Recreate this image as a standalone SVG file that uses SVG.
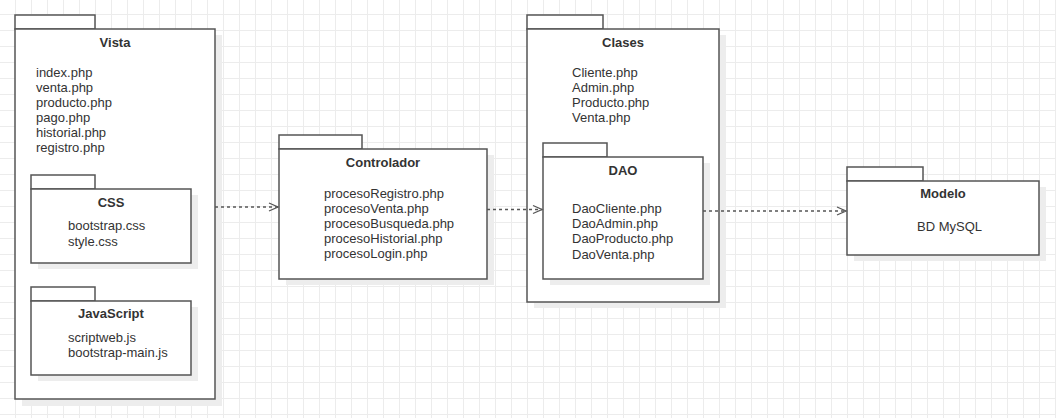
<svg xmlns="http://www.w3.org/2000/svg" width="1056" height="418" viewBox="0 0 1056 418">
<defs>
<pattern id="grid" x="0" y="0" width="16" height="16" patternUnits="userSpaceOnUse">
<path d="M15.5 0V16M0 14.5H16" stroke="#ececec" stroke-width="1" fill="none"/>
</pattern>
<marker id="open" markerWidth="12" markerHeight="12" refX="10" refY="6" orient="auto" markerUnits="userSpaceOnUse">
<path d="M1 2L10 6L1 10" fill="none" stroke="#555" stroke-width="1.3"/>
</marker>
</defs>
<style>
.box{fill:#fff;stroke:#555;stroke-width:1.5}
.sh{fill:#ededed}
.t{font-family:"Liberation Sans",Arial,sans-serif;font-size:13px;fill:#333}
.b{font-weight:bold;text-anchor:middle}
.c{fill:none;stroke:#555;stroke-width:1.3;stroke-dasharray:3 3}
</style>
<rect width="1056" height="418" fill="#fff"/>
<rect width="1056" height="418" fill="url(#grid)"/>

<g id="vista">
<rect class="sh" x="22" y="35" width="200" height="371"/>
<rect class="box" x="15" y="15" width="80" height="14"/>
<rect class="box" x="15" y="29" width="200" height="370"/>
<text class="t b" x="115" y="47">Vista</text>
<text class="t" x="36" y="77">index.php</text>
<text class="t" x="36" y="92">venta.php</text>
<text class="t" x="36" y="107">producto.php</text>
<text class="t" x="36" y="122">pago.php</text>
<text class="t" x="36" y="137">historial.php</text>
<text class="t" x="36" y="152">registro.php</text>
</g>

<g id="css">
<rect class="sh" x="38" y="195" width="160" height="74"/>
<rect class="box" x="31" y="175" width="64" height="14"/>
<rect class="box" x="31" y="189" width="160" height="74"/>
<text class="t b" x="111" y="207">CSS</text>
<text class="t" x="68" y="230">bootstrap.css</text>
<text class="t" x="68" y="246">style.css</text>
</g>

<g id="javascript">
<rect class="sh" x="38" y="307" width="160" height="74"/>
<rect class="box" x="31" y="287" width="64" height="14"/>
<rect class="box" x="31" y="301" width="160" height="74"/>
<text class="t b" x="111" y="318">JavaScript</text>
<text class="t" x="68" y="342">scriptweb.js</text>
<text class="t" x="68" y="357">bootstrap-main.js</text>
</g>

<g id="controlador">
<rect class="sh" x="286" y="155" width="208" height="130"/>
<rect class="box" x="279" y="135" width="83" height="14"/>
<rect class="box" x="279" y="149" width="208" height="130"/>
<text class="t b" x="383" y="167">Controlador</text>
<text class="t" x="324" y="198">procesoRegistro.php</text>
<text class="t" x="324" y="213">procesoVenta.php</text>
<text class="t" x="324" y="228">procesoBusqueda.php</text>
<text class="t" x="324" y="243">procesoHistorial.php</text>
<text class="t" x="324" y="258">procesoLogin.php</text>
</g>

<g id="clases">
<rect class="sh" x="534" y="35" width="192" height="273"/>
<rect class="box" x="527" y="15" width="76" height="14"/>
<rect class="box" x="527" y="29" width="192" height="273"/>
<text class="t b" x="623" y="47">Clases</text>
<text class="t" x="572" y="77">Cliente.php</text>
<text class="t" x="572" y="92">Admin.php</text>
<text class="t" x="572" y="107">Producto.php</text>
<text class="t" x="572" y="122">Venta.php</text>
</g>

<g id="dao">
<rect class="sh" x="550" y="163" width="160" height="122"/>
<rect class="box" x="543" y="143" width="64" height="14"/>
<rect class="box" x="543" y="157" width="160" height="122"/>
<text class="t b" x="623" y="175">DAO</text>
<text class="t" x="572" y="213">DaoCliente.php</text>
<text class="t" x="572" y="228">DaoAdmin.php</text>
<text class="t" x="572" y="243">DaoProducto.php</text>
<text class="t" x="572" y="259">DaoVenta.php</text>
</g>

<g id="modelo">
<rect class="sh" x="854" y="187" width="192" height="74"/>
<rect class="box" x="847" y="167" width="76" height="14"/>
<rect class="box" x="847" y="181" width="192" height="74"/>
<text class="t b" x="943" y="198">Modelo</text>
<text class="t" x="917" y="231">BD MySQL</text>
</g>

<g id="connectors">
<path class="c" d="M215 207H278" marker-end="url(#open)"/>
<path class="c" d="M487 209.5H542" marker-end="url(#open)"/>
<path class="c" d="M703 211H846" marker-end="url(#open)"/>
</g>
</svg>
